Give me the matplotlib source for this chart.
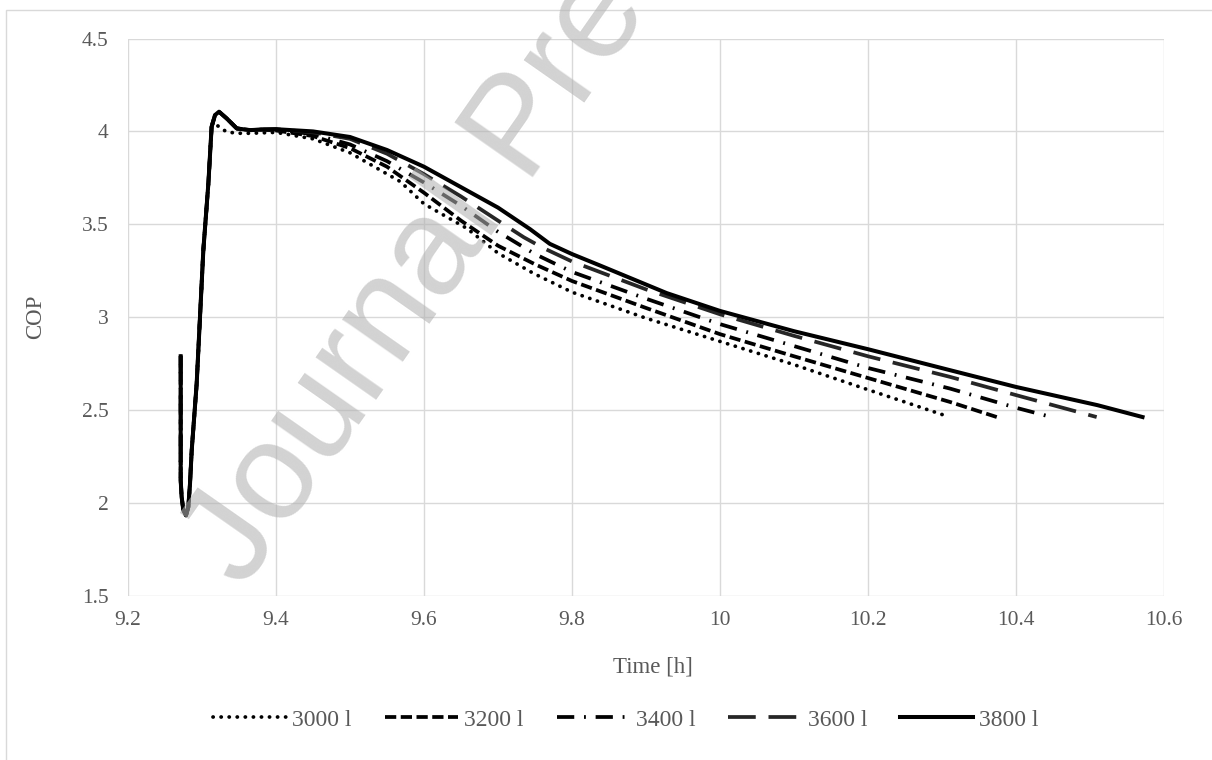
import matplotlib
matplotlib.use("Agg")
import matplotlib.pyplot as plt
from matplotlib.patches import Rectangle
from matplotlib.ticker import FuncFormatter, MultipleLocator

plt.rcParams['font.family'] = ['Liberation Serif', 'DejaVu Serif']

# ---- data -------------------------------------------------------------
labels = ["3000 l", "3200 l", "3400 l", "3600 l", "3800 l"]

# common start-up transient (shared by all series)
start_t = [9.2712, 9.2712, 9.2725, 9.2748, 9.2784, 9.2815, 9.2838, 9.2861, 9.2928,
           9.3018, 9.3086, 9.3130]
start_cop = [2.79, 2.122, 2.033, 1.961, 1.934, 1.979, 2.105, 2.284, 2.643,
             3.361, 3.72, 4.025]

# peak for the larger tanks
peak_t = [9.3176, 9.3230, 9.3333, 9.3470, 9.3650, 9.3800]
peak_cop = [4.088, 4.106, 4.07, 4.016, 4.007, 4.010]
# peak for 3000 l
peak3000_t = [9.3198, 9.3330, 9.3470, 9.3650]
peak3000_cop = [4.034, 3.998, 3.99, 3.99]

t_3000 = [9.40, 9.45, 9.50, 9.568, 9.60, 9.658, 9.70, 9.748, 9.80, 9.90, 10.00, 10.10, 10.20, 10.243, 10.305]
cop_3000 = [3.995, 3.96, 3.885, 3.73, 3.61, 3.478, 3.345, 3.236, 3.135, 2.995, 2.87, 2.745, 2.61, 2.553, 2.47]

t_3200 = [9.40, 9.45, 9.50, 9.55, 9.60, 9.65, 9.70, 9.75, 9.80, 9.90, 10.00, 10.10, 10.20, 10.311, 10.374]
cop_3200 = [4.005, 3.975, 3.91, 3.81, 3.67, 3.52, 3.385, 3.285, 3.195, 3.05, 2.909, 2.79, 2.673, 2.544, 2.463]

t_3400 = [9.40, 9.45, 9.50, 9.55, 9.60, 9.65, 9.70, 9.75, 9.80, 9.90, 10.00, 10.10, 10.20, 10.311, 10.401, 10.444]
cop_3400 = [4.01, 3.985, 3.93, 3.84, 3.725, 3.60, 3.46, 3.34, 3.244, 3.10, 2.963, 2.845, 2.727, 2.616, 2.512, 2.467]

t_3600 = [9.40, 9.45, 9.50, 9.55, 9.60, 9.65, 9.70, 9.735, 9.76, 9.80, 9.90, 10.00, 10.10, 10.20, 10.311, 10.401, 10.509]
cop_3600 = [4.012, 3.995, 3.96, 3.88, 3.77, 3.65, 3.52, 3.43, 3.375, 3.30, 3.15, 3.016, 2.90, 2.79, 2.679, 2.58, 2.463]

t_3800 = [9.40, 9.45, 9.50, 9.55, 9.60, 9.65, 9.70, 9.743, 9.77, 9.80, 9.84, 9.928, 10.00, 10.10, 10.20, 10.311, 10.40, 10.51, 10.571]
cop_3800 = [4.012, 4.0, 3.97, 3.90, 3.81, 3.70, 3.59, 3.475, 3.395, 3.34, 3.275, 3.13, 3.034, 2.925, 2.828, 2.715, 2.625, 2.527, 2.463]

series_t = [start_t + peak3000_t + t_3000,
            start_t + peak_t + t_3200,
            start_t + peak_t + t_3400,
            start_t + peak_t + t_3600,
            start_t + peak_t + t_3800]
series_cop = [start_cop + peak3000_cop + cop_3000,
              start_cop + peak_cop + cop_3200,
              start_cop + peak_cop + cop_3400,
              start_cop + peak_cop + cop_3600,
              start_cop + peak_cop + cop_3800]

LW = 2.7
styles = [dict(color='black', lw=LW, linestyle=(0, (0.05, 2.1)), dash_capstyle='round'),
          dict(color='black', lw=LW, linestyle=(0, (3.0, 1.2))),
          dict(color='black', lw=LW, linestyle=(0, (4.6, 2.6, 0.5, 2.6))),
          dict(color='#262626', lw=LW, linestyle=(0, (7.4, 3.4))),
          dict(color='black', lw=LW + 0.2, linestyle='-')]

# ---- figure -----------------------------------------------------------
W, H = 1212, 760
fig = plt.figure(figsize=(W / 100, H / 100), dpi=100)
fig.patches.append(Rectangle((6 / W, -0.1), 1.2, (H - 10) / H + 0.1,
                             transform=fig.transFigure, fill=False,
                             edgecolor='#d9d9d9', lw=1.0))

ax = fig.add_axes([128 / W, 1 - 596 / H, (1164 - 128) / W, (596 - 38.5) / H])
for t, c, lab, st in zip(series_t, series_cop, labels, styles):
    ax.plot(t, c, label=lab, solid_joinstyle='round', **st)

ax.set_xlim(9.2, 10.6)
ax.set_ylim(1.5, 4.5)
ax.xaxis.set_major_locator(MultipleLocator(0.2))
ax.yaxis.set_major_locator(MultipleLocator(0.5))
fmt = FuncFormatter(lambda v, p: f"{v:.1f}".rstrip('0').rstrip('.'))
ax.xaxis.set_major_formatter(fmt)
ax.yaxis.set_major_formatter(fmt)
ax.grid(True, color='#d9d9d9', lw=1.0)
ax.set_axisbelow(True)
for s in ax.spines.values():
    s.set_visible(False)
ax.tick_params(length=0, labelsize=15.5, colors='#595959')
ax.tick_params(axis='y', pad=14)
ax.tick_params(axis='x', pad=11)

fig.text(653 / W, 1 - 667 / H, "Time [h]", fontsize=16.5, color='#595959',
         ha='center', va='center')
fig.text(36 / W, 1 - 317 / H, "COP", fontsize=16.5, color='#595959',
         ha='center', va='center', rotation=90)

fig.legend(loc='center', bbox_to_anchor=(626 / W, 1 - 720 / H), ncol=5, frameon=False,
           fontsize=17, handlelength=3.1, columnspacing=1.4, handletextpad=0.25,
           labelcolor='#595959')

# watermark
fig.text(243 / W, 1 - 590 / H, "Journal Pre-proof", fontsize=100,
         family=['Liberation Sans', 'DejaVu Sans'], color='#b2b2b2', alpha=0.58,
         rotation=55, rotation_mode='anchor', ha='left', va='baseline', zorder=10)

fig.savefig("out.png", dpi=100)
